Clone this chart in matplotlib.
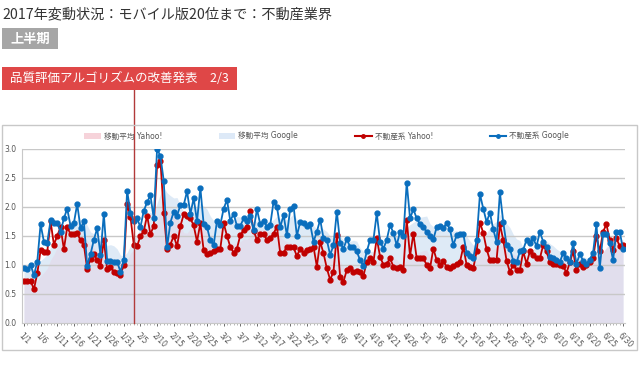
import matplotlib
matplotlib.use('Agg')
import matplotlib.pyplot as plt
from matplotlib.lines import Line2D
from matplotlib.patches import Patch, Rectangle
import pandas as pd

# daily values, 2017-01-01 .. 2017-06-30
dates = pd.date_range('2017-01-01', '2017-06-30', freq='D')

yahoo = [
    # Jan
    0.72, 0.72, 0.72, 0.58, 0.85, 1.25, 1.22, 1.22, 1.75, 1.35,
    1.50, 1.65, 1.27, 1.65, 1.53, 1.53, 1.55, 1.42, 1.35, 0.93,
    1.10, 1.18, 1.08, 0.98, 1.43, 0.92, 0.97, 0.88, 0.85, 0.82,
    1.00,
    # Feb
    2.05, 1.83, 1.35, 1.32, 1.50, 1.58, 1.85, 1.53, 1.67, 2.72,
    2.80, 1.90, 1.27, 1.35, 1.50, 1.32, 1.67, 1.87, 1.85, 1.80,
    1.68, 1.40, 1.72, 1.25, 1.18, 1.20, 1.23, 1.28,
    # Mar
    1.28, 1.72, 1.50, 1.31, 1.21, 1.28, 1.51, 1.60, 1.66, 1.93,
    1.59, 1.43, 1.54, 1.53, 1.43, 1.46, 1.54, 1.66, 1.20, 1.21,
    1.31, 1.31, 1.30, 1.15, 1.28, 1.20, 1.26, 1.28, 1.31, 0.97,
    1.40,
    # Apr
    1.20, 0.94, 0.74, 0.88, 1.51, 0.79, 0.71, 0.91, 0.94, 0.88,
    0.90, 0.88, 0.81, 1.05, 1.11, 1.05, 1.46, 1.14, 1.00, 1.02,
    1.11, 0.97, 0.94, 0.97, 0.91, 1.78, 1.15, 1.54, 1.11, 1.11,
    # May
    1.11, 1.00, 0.94, 1.28, 1.08, 1.00, 1.07, 0.96, 0.94, 0.98,
    1.02, 1.05, 1.31, 1.00, 0.97, 0.94, 1.23, 1.73, 1.55, 1.27,
    1.08, 1.09, 1.09, 1.70, 1.43, 1.07, 0.88, 1.00, 0.91, 0.91,
    1.23,
    # Jun
    1.02, 1.23, 1.17, 1.11, 1.11, 1.34, 1.23, 1.05, 1.02, 1.02,
    1.00, 0.98, 0.86, 1.04, 1.23, 0.91, 1.02, 0.97, 1.00, 1.04,
    1.11, 1.50, 1.23, 1.57, 1.70, 1.43, 1.26, 1.46, 1.32, 1.34,
]

google = [
    # Jan
    0.95, 0.92, 1.00, 0.82, 1.05, 1.70, 1.40, 1.38, 1.77, 1.72,
    1.72, 1.57, 1.80, 1.97, 1.67, 1.72, 2.05, 1.63, 1.75, 0.98,
    1.18, 1.43, 1.63, 1.17, 1.88, 1.07, 1.07, 1.05, 1.05, 0.88,
    1.08,
    # Feb
    2.28, 1.90, 1.75, 1.80, 1.65, 1.93, 2.08, 2.20, 1.80, 3.00,
    2.88, 2.45, 1.30, 1.73, 1.92, 1.85, 2.03, 2.03, 2.27, 1.88,
    2.15, 1.75, 2.33, 1.70, 1.65, 1.42, 1.34, 1.76,
    # Mar
    1.69, 1.97, 2.12, 1.76, 1.88, 1.67, 1.67, 1.80, 1.76, 1.84,
    1.60, 1.96, 1.70, 1.76, 1.66, 1.69, 2.09, 2.00, 1.65, 1.86,
    1.51, 1.97, 2.02, 1.50, 1.74, 1.73, 1.67, 1.70, 1.40, 1.57,
    1.78,
    # Apr
    1.46, 1.43, 1.17, 1.34, 1.92, 1.38, 1.28, 1.44, 1.31, 1.30,
    1.23, 1.08, 0.98, 1.23, 1.43, 1.43, 1.89, 1.40, 1.28, 1.43,
    1.69, 1.55, 1.34, 1.57, 1.49, 2.42, 1.80, 1.96, 1.80, 1.70,
    # May
    1.65, 1.57, 1.49, 1.44, 1.65, 1.67, 1.63, 1.72, 1.61, 1.34,
    1.51, 1.53, 1.54, 1.20, 1.15, 1.11, 1.43, 2.22, 1.97, 1.74,
    1.90, 1.61, 1.40, 2.25, 1.74, 1.34, 1.28, 1.07, 1.04, 1.23,
    1.26,
    # Jun
    1.43, 1.38, 1.46, 1.32, 1.57, 1.40, 1.30, 1.13, 1.11, 1.08,
    1.05, 1.20, 1.11, 1.05, 1.37, 1.01, 1.19, 1.07, 1.01, 1.09,
    1.21, 1.70, 0.94, 1.53, 1.54, 1.37, 1.08, 1.57, 1.57, 1.27,
]

tick_labels = [
    '1/1', '1/6', '1/11', '1/16', '1/21', '1/26', '1/31', '2/5', '2/10',
    '2/15', '2/20', '2/25', '3/2', '3/7', '3/12', '3/17', '3/22', '3/27',
    '4/1', '4/6', '4/11', '4/16', '4/21', '4/26', '5/1', '5/6', '5/11',
    '5/16', '5/21', '5/26', '5/31', '6/5', '6/10', '6/15', '6/20', '6/25',
    '6/30',
]
y_ticks = [0.0, 0.5, 1.0, 1.5, 2.0, 2.5, 3.0]

announce_date = pd.Timestamp('2017-02-03')
ma_window = 7

title = '2017年変動状況：モバイル版20位まで：不動産業界'
period_label = '上半期'
event_label = '品質評価アルゴリズムの改善発表　2/3'
series_names = ['移動平均 Yahoo!', '移動平均 Google', '不動産系 Yahoo!', '不動産系 Google']

RED = '#c00000'
BLUE = '#0a6ebd'
PINK = '#e8cde1'
LIGHT_BLUE = '#d3e3f4'
GRID = '#c8c8c8'

plt.rcParams['font.family'] = ['DejaVu Sans', 'Noto Sans CJK JP']
JP = ['Noto Sans CJK JP', 'DejaVu Sans']

df = pd.DataFrame({'yahoo': yahoo, 'google': google}, index=dates)
ma = df.rolling(ma_window, min_periods=1).mean()

W, H = 640, 378
fig = plt.figure(figsize=(W / 100, H / 100), dpi=100)


def fx(px):
    return px / W


def fy(py):
    return 1 - py / H


# header
fig.text(fx(2), fy(14), title, family=JP, fontsize=10.2, color='#333333', va='center', ha='left')
fig.patches.append(Rectangle((fx(2), fy(49)), fx(58) - fx(2), fy(28) - fy(49),
                             transform=fig.transFigure, color='#a6a6a6', lw=0))
fig.text(fx(30), fy(38.5), period_label, family=JP, fontsize=9.5, color='white',
         fontweight='bold', va='center', ha='center')
fig.patches.append(Rectangle((fx(2), fy(90)), fx(237) - fx(2), fy(67) - fy(90),
                             transform=fig.transFigure, color='#df4747', lw=0))
fig.text(fx(10), fy(78.5), event_label, family=JP, fontsize=9, color='white',
         va='center', ha='left')

# chart frame
fig.patches.append(Rectangle((fx(2), fy(350)), fx(637) - fx(2), fy(125) - fy(350),
                             transform=fig.transFigure, fill=False, edgecolor='#c8c8c8', lw=1))

ax = fig.add_axes([fx(22), fy(322.7), fx(625) - fx(22), fy(149) - fy(322.7)])
ax.set_facecolor('none')

ax.fill_between(dates, 0, ma['google'], color=LIGHT_BLUE, alpha=0.75, lw=0, zorder=1)
ax.fill_between(dates, 0, ma['yahoo'], color=PINK, alpha=0.4, lw=0, zorder=1.1)
for v in y_ticks[1:]:
    ax.axhline(v, color=GRID, lw=1, zorder=1.5)

ax.plot(dates, df['yahoo'], color=RED, lw=1.3, marker='o', markersize=3.5, zorder=2)
ax.plot(dates, df['google'], color=BLUE, lw=1.3, marker='o', markersize=3.5, zorder=2.1)

# announcement line from the red box down to the axis
ax.plot([announce_date, announce_date], [0, (322.7 - 90) / (322.7 - 149)],
        transform=ax.get_xaxis_transform(), color='#b23a3a', lw=1, clip_on=False, zorder=3)

ax.set_ylim(0, 3.0)
ax.set_xlim(dates[0] - pd.Timedelta(hours=14), dates[-1] + pd.Timedelta(hours=14))
ax.set_yticks(y_ticks)
ax.set_yticklabels([f'{v:.1f}' for v in y_ticks])
ax.set_xticks(dates[::5])
ax.set_xticklabels(tick_labels, rotation=-45, ha='left', rotation_mode='anchor')
ax.set_xticks(dates, minor=True)
ax.tick_params(axis='both', labelsize=5.5, colors='#555555', length=2, width=0.6)
ax.tick_params(axis='x', which='minor', length=1.5, width=0.5, colors='#999999')
ax.tick_params(axis='y', length=0, pad=4)
for side in ['top', 'right']:
    ax.spines[side].set_visible(False)
ax.spines['left'].set_color(GRID)
ax.spines['bottom'].set_color(GRID)

handles = [
    Patch(facecolor='#f6d3da', edgecolor='none'),
    Patch(facecolor='#dde9f7', edgecolor='none'),
    Line2D([], [], color=RED, lw=1.5, marker='o', markersize=2.5),
    Line2D([], [], color=BLUE, lw=1.5, marker='o', markersize=2.5),
]
fig.legend(handles, series_names, ncol=4, loc='center left',
           bbox_to_anchor=(fx(77), fy(136)), frameon=False, fontsize=5.5,
           handlelength=2.2, handleheight=0.9, handletextpad=0.4, columnspacing=7.4,
           labelcolor='#555555')

fig.savefig('out.png', dpi=100)
